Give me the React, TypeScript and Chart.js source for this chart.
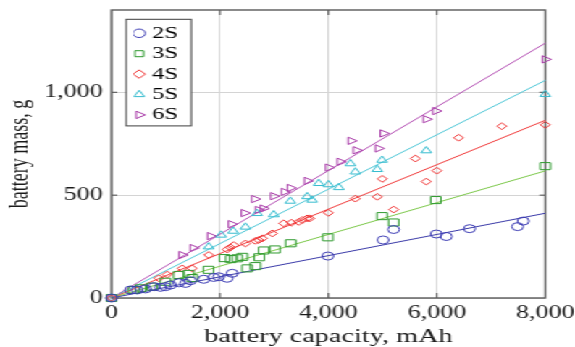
import React, { useEffect, useRef } from 'react';
import { Chart, registerables } from 'chart.js';

Chart.register(...registerables);

// The reference picture is horizontally stretched; the chart is drawn on a
// narrower canvas and the canvas is scaled in x by CSS.
const CANVAS_W = 397;
const CANVAS_H = 347;
const STRETCH = 575 / CANVAS_W;

// ---------- data ----------
const seriesLabels = ['2S', '3S', '4S', '5S', '6S'];

const cap2S = [0, 350, 474, 627, 780, 903, 995, 1087, 1240, 1364, 1456, 1701, 1885, 1978, 2132, 2225, 3990, 5008, 5203, 5990, 6174, 6603, 7488, 7593];
const mass2S = [0, 39, 39, 44, 55, 52, 55, 63, 74, 71, 84, 91, 100, 103, 96, 120, 204, 282, 333, 311, 299, 337, 347, 374];

const cap3S = [0, 411, 534, 750, 995, 1240, 1425, 1487, 1788, 2083, 2202, 2317, 2414, 2501, 2654, 2724, 2807, 3013, 3305, 3990, 4989, 5203, 5981, 8000];
const mass3S = [0, 39, 47, 55, 79, 112, 117, 97, 137, 194, 189, 193, 200, 144, 155, 198, 231, 236, 266, 295, 398, 367, 476, 641];

const cap4S = [0, 872, 1027, 1303, 1487, 1793, 2132, 2193, 2254, 2470, 2654, 2715, 2783, 2967, 3175, 3317, 3452, 3520, 3607, 3655, 3999, 4497, 4902, 4994, 5203, 5603, 5805, 5999, 6401, 7197, 8000];
const mass4S = [0, 96, 114, 144, 144, 209, 236, 246, 257, 265, 278, 282, 290, 314, 363, 366, 370, 379, 387, 387, 414, 483, 492, 579, 430, 678, 566, 619, 779, 835, 842];

const cap5S = [0, 1793, 2022, 2243, 2470, 2685, 2991, 3299, 3607, 3699, 3821, 4000, 4193, 4405, 4497, 4902, 4989, 5805, 8000];
const mass5S = [0, 249, 306, 325, 345, 411, 405, 471, 493, 476, 557, 551, 537, 653, 613, 625, 670, 716, 990];

const cap6S = [0, 1303, 1506, 1825, 2212, 2451, 2641, 2710, 2801, 2991, 3188, 3299, 3612, 4005, 4220, 4418, 4515, 4921, 5013, 5805, 5981, 8000];
const mass6S = [0, 209, 243, 301, 359, 413, 481, 428, 435, 495, 516, 535, 569, 634, 662, 764, 718, 727, 800, 869, 909, 1160];

// fitted lines (end points)
const fitCapacity = [0, 8000];
const fit2S = [0, 412];
const fit3S = [0, 618];
const fit4S = [0, 864];
const fit5S = [0, 1058];
const fit6S = [0, 1239];

const xTicks = [0, 2000, 4000, 6000, 8000];
const yTicks = [0, 500, 1000];
const xMin = 0, xMax = 8000, yMin = 0, yMax = 1400;

// ---------- styles ----------
const markerColors = ['#3c3cb4', '#2f9a2f', '#f03232', '#36bccf', '#a83aa8'];
const lineColors = ['#3a3aa8', '#7cc84a', '#f03a3a', '#4cc6d6', '#b24cb2'];
const pointStyles = ['circle', 'rect', 'rectRot', 'triangle', 'triangle'];
const pointRotations = [0, 0, 0, 0, 90];
const pointRadii = [4, 5, 3.4, 4.2, 4.2];

const toPoints = (xs: number[], ys: number[]) => xs.map((x, i) => ({ x, y: ys[i] }));

const caps = [cap2S, cap3S, cap4S, cap5S, cap6S];
const masses = [mass2S, mass3S, mass4S, mass5S, mass6S];
const fits = [fit2S, fit3S, fit4S, fit5S, fit6S];

const serif = 'Liberation Serif';

const framePlugin = {
  id: 'frameAndLegendBox',
  afterLayout(chart: any) {
    const lg = chart.legend;
    if (!lg) return;
    const w = lg.right - lg.left;
    const h = lg.bottom - lg.top;
    lg.left = 92.2;
    lg.top = 21.4;
    lg.right = lg.left + w;
    lg.bottom = lg.top + h;
  },
  beforeDatasetsDraw(chart: any) {
    const { ctx, chartArea: a, scales } = chart;
    ctx.save();
    ctx.strokeStyle = '#4a4a4a';
    ctx.lineWidth = 1;
    ctx.beginPath();
    xTicks.forEach((v) => {
      if (v === xMin || v === xMax) return;
      const px = scales.x.getPixelForValue(v);
      ctx.moveTo(px, a.bottom);
      ctx.lineTo(px, a.bottom - 5);
      ctx.moveTo(px, a.top);
      ctx.lineTo(px, a.top + 5);
    });
    yTicks.forEach((v) => {
      if (v === yMin || v === yMax) return;
      const py = scales.y.getPixelForValue(v);
      ctx.moveTo(a.left, py);
      ctx.lineTo(a.left + 4, py);
      ctx.moveTo(a.right, py);
      ctx.lineTo(a.right - 4, py);
    });
    ctx.stroke();
    ctx.strokeStyle = '#5a5a5a';
    ctx.lineWidth = 1.4;
    ctx.strokeRect(a.left, a.top, a.right - a.left, a.bottom - a.top);
    ctx.restore();
  },
  afterDatasetsDraw(chart: any) {
    const lg = chart.legend;
    if (!lg || !lg.legendHitBoxes || !lg.legendHitBoxes.length) return;
    const hb = lg.legendHitBoxes;
    let l = Infinity, t = Infinity, r = -Infinity, b = -Infinity;
    hb.forEach((h: any) => {
      l = Math.min(l, h.left);
      t = Math.min(t, h.top);
      r = Math.max(r, h.left + h.width);
      b = Math.max(b, h.top + h.height);
    });
    const bx = l - 8.5, by = t - 5.5, bw = r + 9 - bx, bh = b + 2.5 - by;
    const { ctx } = chart;
    ctx.save();
    ctx.fillStyle = '#ffffff';
    ctx.fillRect(bx, by, bw, bh);
    ctx.strokeStyle = '#3c3c3c';
    ctx.lineWidth = 1;
    ctx.strokeRect(bx, by, bw, bh);
    ctx.restore();
    lg.draw(chart.chartArea);
  },
};

export default function App() {
  const ref = useRef<HTMLCanvasElement>(null);

  useEffect(() => {
    if (!ref.current) return;
    const scatterSets = seriesLabels.map((label, i) => ({
      label,
      data: toPoints(caps[i], masses[i]),
      showLine: false,
      pointStyle: pointStyles[i],
      pointRotation: pointRotations[i],
      pointRadius: pointRadii[i],
      pointBorderWidth: 1,
      pointBorderColor: markerColors[i],
      pointBackgroundColor: 'rgba(0,0,0,0)',
      borderColor: markerColors[i],
      backgroundColor: 'rgba(0,0,0,0)',
      clip: false,
    }));
    const fitSets = seriesLabels.map((label, i) => ({
      label: label + ' fit',
      data: toPoints(fitCapacity, fits[i]),
      showLine: true,
      borderColor: lineColors[i],
      backgroundColor: lineColors[i],
      borderWidth: 1,
      pointRadius: 0,
      fill: false,
      clip: false,
    }));

    const chart = new Chart(ref.current, {
      type: 'scatter',
      data: { datasets: [...scatterSets, ...fitSets] as any },
      plugins: [framePlugin as any],
      options: {
        responsive: false,
        animation: false,
        devicePixelRatio: 1,
        layout: { padding: { left: 0, right: 20.5, top: 10, bottom: 0 } },
        plugins: {
          tooltip: { enabled: false },
          legend: {
            display: true,
            position: 'chartArea' as any,
            align: 'start',
            labels: {
              usePointStyle: true,
              boxWidth: 1,
              boxHeight: 6,
              padding: 3.4,
              color: '#000',
              font: { family: serif, size: 17 },
              filter: (item: any) => item.datasetIndex < seriesLabels.length,
            },
          },
        },
        scales: {
          x: {
            type: 'linear',
            min: xMin,
            max: xMax,
            afterFit: (s: any) => {
              s.height = 49;
              s.paddingLeft = 0;
              s.paddingRight = 0;
              s.paddingTop = 0;
              s.paddingBottom = 0;
            },
            afterBuildTicks: (s: any) => { s.ticks = xTicks.map((value) => ({ value })); },
            grid: { color: '#d4d4d4', lineWidth: 1, drawTicks: false },
            border: { display: false },
            ticks: {
              autoSkip: false,
              maxRotation: 0,
              padding: 4,
              color: '#1a1a1a',
              font: { family: serif, size: 18 },
              callback: (v: any) => Number(v).toLocaleString('en-US'),
            },
            title: {
              display: true,
              text: 'battery capacity, mAh',
              color: '#1a1a1a',
              font: { family: serif, size: 19.5 },
              padding: { top: 0, bottom: -1.5 },
            },
          },
          y: {
            type: 'linear',
            min: yMin,
            max: yMax,
            afterFit: (s: any) => {
              s.width = 77;
              s.paddingLeft = 0;
              s.paddingRight = 0;
              s.paddingTop = 0;
              s.paddingBottom = 0;
            },
            afterBuildTicks: (s: any) => { s.ticks = yTicks.map((value) => ({ value })); },
            grid: { color: '#d4d4d4', lineWidth: 1, drawTicks: false },
            border: { display: false },
            ticks: {
              padding: 6,
              color: '#1a1a1a',
              font: { family: serif, size: 18 },
              callback: (v: any) => Number(v).toLocaleString('en-US'),
            },
            title: {
              display: true,
              text: 'battery mass, g',
              color: '#1a1a1a',
              font: { family: serif, size: 18 },
              padding: { top: 3, bottom: 0 },
            },
          },
        },
      },
    });
    return () => chart.destroy();
  }, []);

  return (
    <div
      style={{
        position: 'absolute',
        left: 0,
        top: 0,
        width: CANVAS_W,
        height: CANVAS_H,
        transform: `scaleX(${STRETCH})`,
        transformOrigin: '0 0',
        background: '#ffffff',
      }}
    >
      <canvas ref={ref} width={CANVAS_W} height={CANVAS_H} style={{ display: 'block', width: CANVAS_W, height: CANVAS_H }} />
    </div>
  );
}
